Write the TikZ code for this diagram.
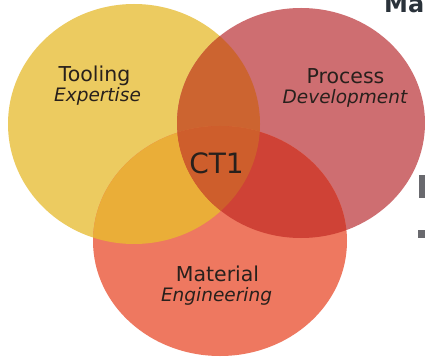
\documentclass[tikz,border=0pt]{standalone}
\usepackage{fontspec}
\setmainfont{DejaVu Sans}
\definecolor{cyel}{RGB}{236,203,96}
\definecolor{cred}{RGB}{206,110,113}
\definecolor{cbot}{RGB}{238,120,96}
\definecolor{cyr}{RGB}{204,100,48}
\definecolor{cyb}{RGB}{234,174,56}
\definecolor{crb}{RGB}{207,66,54}
\definecolor{call}{RGB}{206,94,44}
\definecolor{txt}{RGB}{40,32,28}
\definecolor{slate}{RGB}{42,50,58}
\definecolor{frag}{RGB}{105,105,110}
\begin{document}
\begin{tikzpicture}[x=1pt,y=-1pt,
  yell/.style={x radius=126pt, y radius=120pt},
  redd/.style={x radius=124pt, y radius=115pt},
  bott/.style={x radius=127pt, y radius=115pt},
  lbl/.style={font=\fontsize{20.5}{24}\selectfont, text=txt, anchor=base, inner sep=0pt},
  sublbl/.style={font=\fontsize{18.5}{22}\selectfont\itshape, text=txt, anchor=base, inner sep=0pt},
  core/.style={font=\fontsize{28}{32}\selectfont, text=txt, anchor=base, inner sep=0pt}]
\useasboundingbox (0,0) rectangle (425,358);
\fill[white] (0,0) rectangle (425,358);
\clip (0,0) rectangle (425,358);
\coordinate (yc) at (134,124);
\coordinate (rc) at (301,123);
\coordinate (bc) at (220,241);
% base circles
\fill[cyel] (yc) ellipse [yell];
\fill[cred] (rc) ellipse [redd];
\fill[cbot] (bc) ellipse [bott];
% pairwise overlaps
\begin{scope}
  \clip (yc) ellipse [yell];
  \fill[cyr] (rc) ellipse [redd];
\end{scope}
\begin{scope}
  \clip (yc) ellipse [yell];
  \fill[cyb] (bc) ellipse [bott];
\end{scope}
\begin{scope}
  \clip (rc) ellipse [redd];
  \fill[crb] (bc) ellipse [bott];
\end{scope}
% triple overlap
\begin{scope}
  \clip (yc) ellipse [yell];
  \clip (rc) ellipse [redd];
  \fill[call] (bc) ellipse [bott];
\end{scope}
% labels
\node[lbl] (tool) at (94.5,82) {Tooling};
\node[sublbl] (toolsub) at (97.5,102) {Expertise};
\node[lbl] (proc) at (345.5,84) {Process};
\node[sublbl] (procsub) at (345,104) {Development};
\node[lbl] (mat) at (217.5,281) {Material};
\node[sublbl] (matsub) at (216.5,301) {Engineering};
\node[core] (ct) at (216.5,173) {CT1};
% cropped fragments of surrounding slide
\node[font=\fontsize{24}{28}\selectfont\bfseries, text=slate, anchor=base west, inner sep=0pt] (ma) at (384,13) {Ma};
\fill[frag] (419,175) rectangle (425,198);
\fill[frag] (418,230) rectangle (425,238);
\end{tikzpicture}
\end{document}
